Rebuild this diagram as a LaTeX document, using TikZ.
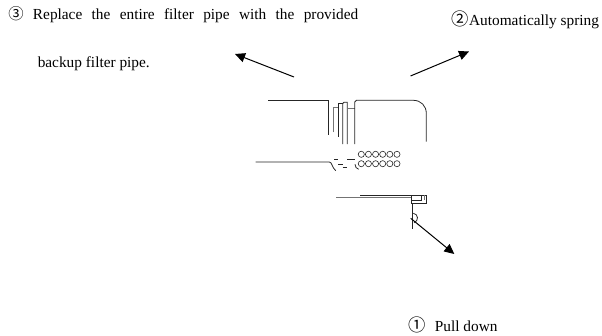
\documentclass[tikz,border=0pt]{standalone}
\usepackage{fontspec}
\setmainfont{Liberation Serif}
\newfontfamily\cjk{Noto Sans CJK SC}
\usetikzlibrary{arrows.meta}
\newcommand{\circnum}[1]{{\fontsize{13}{13}\selectfont\cjk #1}}
\tikzset{
  pen/.style={line width=0.6pt,black!85},
  greypen/.style={line width=0.6pt,black!55},
  hole/.style={circle,draw=black!85,line width=0.45pt,inner sep=0pt,minimum size=4.6pt},
  pointer/.style={line width=0.75pt,-{Triangle[length=7.5pt,width=7pt]}},
  lab/.style={inner sep=0pt,anchor=base west,font=\fontsize{11.5}{13}\selectfont}
}
\begin{document}
\begin{tikzpicture}[x=0.75pt,y=-0.75pt]
\useasboundingbox (0,0) rectangle (602,335);
% labels
\node[lab] (t3a) at (8,20) {\makebox[262.5pt][s]{{\cjk ③} Replace the entire filter pipe with the provided}};
\node[lab] (t3b) at (37.5,67) {backup filter pipe.};
\node[lab] (t2) at (451.5,26) {\circnum{②}Automatically spring};
\node[lab] (t1) at (408,331) {\circnum{①}\hspace{7pt}Pull down};
% top housing
\draw[pen] (268,100.3) -- (328.7,100.3) -- (328.7,135);
\draw[greypen] (333.7,132.3) -- (333.7,107.7) -- (338.7,107.7);
\draw[pen] (338.7,136.7) -- (338.7,103.7) -- (342.7,103.7);
\draw[pen] (342.7,144) -- (342.7,103.5) -- (344,102.3) -- (347.3,102.3) -- (347.3,144);
\draw[greypen] (347.3,108) -- (354.7,108);
\draw[pen] (354.7,144) -- (354.7,102) -- (356.5,100.3) -- (413.3,100.3)
  .. controls (421,100.3) and (426.3,106) .. (426.3,113.3) -- (426.3,141.7);
% lower pipe
\draw[pen] (255.7,162) -- (329.3,162) .. controls (332,162) and (332,167.5) .. (335.7,170.7);
\draw[pen] (334.3,159.3) -- (338.3,159.3);
\draw[pen] (338.3,164.3) -- (342.7,164.3);
\draw[pen] (342.7,167) -- (347,167);
\draw[pen] (347,159.3) -- (355,159.3);
\draw[pen] (355,164.3) .. controls (355,167) and (356.5,168.5) .. (358.7,169.3);
% filter holes
\foreach \i [evaluate=\i as \xx using 361.3+7.13*\i] in {0,...,5} {
  \node[hole] (up\i) at (\xx,154.3) {};
  \node[hole] (lo\i) at (\xx,163.7) {};
}
% latch
\draw[greypen,line width=0.9pt] (336,197.7) -- (411.7,197.7);
\draw[pen] (360,195.3) -- (426.7,195.3) -- (426.7,203.7) -- (411.7,203.7) -- (411.7,195.3);
\draw[pen] (411.7,200.3) -- (421.7,200.3) -- (421.7,195.3);
\draw[greypen] (424,195.3) -- (424,200.3);
\draw[pen] (412.3,203.7) -- (412.3,229.3);
\draw[pen] (413.3,213.3) .. controls (418.5,214) and (419,221) .. (414,222.7);
% arrows
\coordinate (a1s) at (410.7,218.3);
\coordinate (a1e) at (454.3,254);
\coordinate (a2s) at (410.5,76);
\coordinate (a2e) at (469,51.5);
\coordinate (a3s) at (294,77);
\coordinate (a3e) at (235,54);
\draw[pointer] (a1s) -- (a1e);
\draw[pointer] (a2s) -- (a2e);
\draw[pointer] (a3s) -- (a3e);
\end{tikzpicture}
\end{document}
